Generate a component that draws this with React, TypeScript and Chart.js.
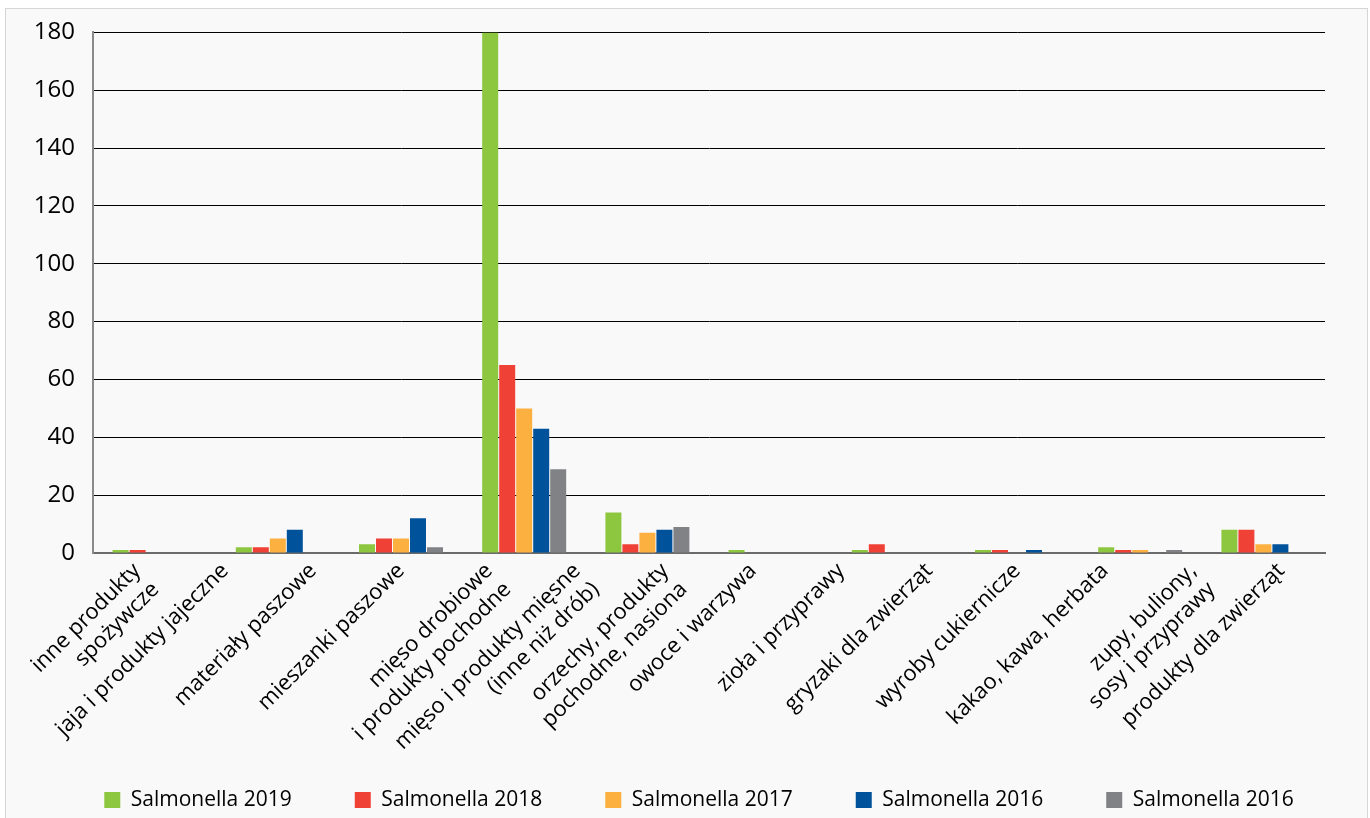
import React, { useEffect, useRef } from "react";
import { Chart, registerables } from "chart.js";

Chart.register(...registerables);

// X-axis category labels (14)
const categories: (string | string[])[] = [
  ["inne produkty", "spożywcze"],
  "jaja i produkty jajeczne",
  "materiały paszowe",
  "mieszanki paszowe",
  ["mięso drobiowe", "i produkty pochodne"],
  ["mięso i produkty mięsne", "(inne niż drób)"],
  ["orzechy, produkty", "pochodne, nasiona"],
  "owoce i warzywa",
  "zioła i przyprawy",
  "gryzaki dla zwierząt",
  "wyroby cukiernicze",
  "kakao, kawa, herbata",
  ["zupy, buliony,", "sosy i przyprawy"],
  "produkty dla zwierząt",
];

// Bar groups as drawn in the picture (10 groups)
const barGroups = [
  "inne produkty spożywcze",
  "jaja / materiały paszowe",
  "mieszanki paszowe",
  "mięso drobiowe i produkty pochodne",
  "orzechy, produkty pochodne, nasiona",
  "owoce i warzywa",
  "zioła i przyprawy",
  "wyroby cukiernicze",
  "kakao, kawa, herbata / zupy",
  "produkty dla zwierząt",
];

const seriesNames = [
  "Salmonella 2019",
  "Salmonella 2018",
  "Salmonella 2017",
  "Salmonella 2016",
  "Salmonella 2016",
];

const salmonella2019 = [1, 2, 3, 180, 14, 1, 1, 1, 2, 8];
const salmonella2018 = [1, 2, 5, 65, 3, 0, 3, 1, 1, 8];
const salmonella2017 = [0, 5, 5, 50, 7, 0, 0, 0, 1, 3];
const salmonella2016a = [0, 8, 12, 43, 8, 0, 0, 1, 0, 3];
const salmonella2016b = [0, 0, 2, 29, 9, 0, 0, 0, 1, 0];

const seriesColors = ["#8dc63f", "#ef4136", "#fbb040", "#00529b", "#808285"];

const yMin = 0;
const yMax = 180;
const yStep = 20;

const LEGEND_PAD = 63;
const LEGEND_FONT = 21;

const legendPlacer = {
  id: "legendPlacer",
  afterLayout(chart: any) {
    const lg = chart.legend;
    if (!lg) return;
    lg.left = 30;
    lg.right = 1368;
    lg.width = lg.right - lg.left;
    lg.top = 800 - LEGEND_FONT / 2 - LEGEND_PAD;
    lg.bottom = 818;
    lg.height = lg.bottom - lg.top;
  },
};

export default function App() {
  const canvasRef = useRef<HTMLCanvasElement | null>(null);

  useEffect(() => {
    if (!canvasRef.current) return;
    Chart.defaults.font.family = "'Open Sans', sans-serif";
    const values = [salmonella2019, salmonella2018, salmonella2017, salmonella2016a, salmonella2016b];
    const chart = new Chart(canvasRef.current, {
      type: "bar",
      data: {
        labels: barGroups,
        datasets: values.map((v, i) => ({
          label: seriesNames[i],
          data: v,
          backgroundColor: seriesColors[i],
          borderWidth: 0,
          xAxisID: "x2",
          categoryPercentage: 0.69,
          barPercentage: 0.94,
        })),
      },
      plugins: [legendPlacer],
      options: {
        responsive: false,
        animation: false,
        layout: { padding: { left: 0, right: 45, top: 30, bottom: 0 } },
        plugins: {
          tooltip: { enabled: false },
          title: { display: false },
          legend: {
            position: "bottom",
            maxHeight: 28,
            labels: {
              boxWidth: 16,
              boxHeight: 16,
              padding: LEGEND_PAD,
              color: "#000",
              font: { size: LEGEND_FONT },
            },
          },
        },
        scales: {
          x: {
            type: "category",
            labels: categories as any,
            offset: true,
            position: "bottom",
            grid: { display: false, drawTicks: false },
            border: { display: true, color: "#6b6b6b", width: 2 },
            ticks: {
              color: "#000",
              font: { size: 22 },
              minRotation: 45,
              maxRotation: 45,
              autoSkip: false,
              padding: 5,
            },
            afterFit: (s: any) => {
              s.height = 818 - 28 - 553;
            },
          },
          x2: {
            type: "category",
            axis: "x",
            position: "bottom",
            offset: true,
            display: false,
            grid: { display: false },
          },
          y: {
            min: yMin,
            max: yMax,
            grid: { color: "#000", lineWidth: 1, drawTicks: false },
            border: { display: true, color: "#8a8a8a", width: 2 },
            ticks: {
              stepSize: yStep,
              color: "#000",
              font: { size: 24 },
              padding: 18,
            },
            afterFit: (s: any) => {
              s.width = 93;
            },
          },
        },
      },
    });
    return () => chart.destroy();
  }, []);

  return (
    <div style={{ position: "absolute", left: 0, top: 0, width: 1370, height: 818, overflow: "hidden", background: "#fff" }}>
      <div
        style={{
          position: "absolute",
          left: 5,
          top: 8,
          width: 1361,
          height: 840,
          background: "#f9f9f9",
          border: "1px solid #d6d6d6",
        }}
      />
      <canvas ref={canvasRef} width={1370} height={818} style={{ position: "absolute", left: 0, top: 0 }} />
    </div>
  );
}
